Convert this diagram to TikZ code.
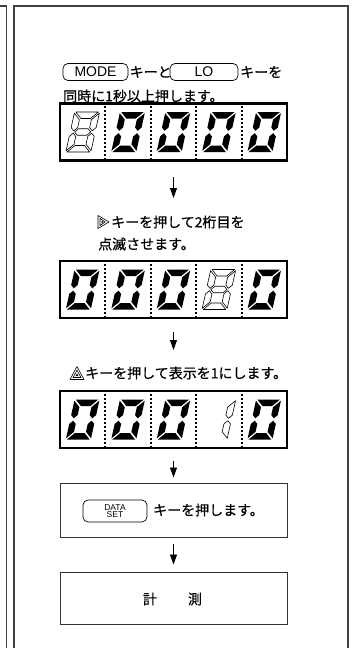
\documentclass[tikz,border=0pt]{standalone}
\usepackage{fontspec}
\setmainfont{Noto Sans CJK JP}[FakeBold=0.5]
\newfontfamily\keyfont{Liberation Sans}
\usetikzlibrary{arrows.meta,calc}

\newcommand\mySegA[1]{\path[#1] (-11.3,-20) -- (11.3,-20) -- (4.8,-13.5) -- (-4.8,-13.5) -- cycle;}
\newcommand\mySegB[1]{\path[#1] (12.5,-18.8) -- (12.5,-4.45) -- (9.25,-1.2) -- (6,-4.45) -- (6,-12.3) -- cycle;}
\newcommand\mySegC[1]{\path[#1] (12.5,18.8) -- (12.5,4.45) -- (9.25,1.2) -- (6,4.45) -- (6,12.3) -- cycle;}
\newcommand\mySegD[1]{\path[#1] (-11.3,20) -- (11.3,20) -- (4.8,13.5) -- (-4.8,13.5) -- cycle;}
\newcommand\mySegE[1]{\path[#1] (-12.5,18.8) -- (-12.5,4.45) -- (-9.25,1.2) -- (-6,4.45) -- (-6,12.3) -- cycle;}
\newcommand\mySegF[1]{\path[#1] (-12.5,-18.8) -- (-12.5,-4.45) -- (-9.25,-1.2) -- (-6,-4.45) -- (-6,-12.3) -- cycle;}
\newcommand\mySegG[1]{\path[#1] (-8.05,0) -- (-4.8,-3.25) -- (4.8,-3.25) -- (8.05,0) -- (4.8,3.25) -- (-4.8,3.25) -- cycle;}

\newcommand\digitZero[2]{\begin{scope}[shift={(#1,#2)},xslant=0.22]
 \mySegA{segon}\mySegB{segon}\mySegC{segon}\mySegD{segon}\mySegE{segon}\mySegF{segon}\end{scope}}
\newcommand\digitEight[2]{\begin{scope}[shift={(#1,#2)},xslant=0.22]
 \mySegA{segoff}\mySegB{segoff}\mySegC{segoff}\mySegD{segoff}\mySegE{segoff}\mySegF{segoff}\mySegG{segoff}\end{scope}}
\newcommand\digitOne[2]{\begin{scope}[shift={(#1,#2)},xslant=0.22]
 \mySegB{segoff}\mySegC{segoff}\end{scope}}

\tikzset{
  segon/.style={fill=black},
  segoff/.style={draw=black,line width=0.6pt,line join=round},
  frame/.style={draw=black!75,line width=1.4pt},
  disp/.style={draw=black,line width=2.5pt,minimum width=227pt,minimum height=57pt,inner sep=0pt},
  sepline/.style={draw=black,line width=2pt,dash pattern=on 2pt off 2pt},
  box/.style={draw=black!80,line width=1pt,minimum width=227pt,inner sep=0pt},
  arr/.style={-{Triangle[length=10pt,width=7pt]},line width=0.8pt},
  key/.style={draw=black,line width=0.7pt,rounded corners=5pt,inner sep=0pt,font=\keyfont\fontsize{14}{15}\selectfont},
  jtxt/.style={anchor=west,inner sep=0pt,font=\fontsize{14}{16}\selectfont},
  sym/.style={draw=black,line width=0.6pt,line join=round}
}

\begin{document}
\begin{tikzpicture}[x=1pt,y=-1pt]
\useasboundingbox (0,0) rectangle (355,648);
% frames
\draw[frame] (0,6) -- (6.5,6) -- (6.5,648);
\draw[frame] (14,648) -- (14,6) -- (348,6) -- (348,648);

% line 1
\node[key,minimum width=65pt,minimum height=17pt] (kmode) at (95.5,72) {MODE};
\node[jtxt] (t1a) at (129.5,72) {キーと};
\node[key,minimum width=68pt,minimum height=17pt] (klo) at (204,72) {LO};
\node[jtxt] (t1b) at (240,72) {キーを};
\node[jtxt] (t1c) at (63,96) {同時に1秒以上押します。};

% display 1
\node[disp] (d1) at (173.5,132) {};
\foreach \k in {0.2,0.4,0.6,0.8}
  \draw[sepline] ($(d1.north west)!\k!(d1.north east)$) -- ($(d1.south west)!\k!(d1.south east)$);
\digitEight{82.7}{132}
\digitZero{128.1}{132}
\digitZero{173.5}{132}
\digitZero{218.9}{132}
\digitZero{264.3}{132}

% arrow 1
\coordinate (a1) at (173.5,198);
\draw[arr,shorten <=15pt] (d1.south) -- (a1);

% text 2
\begin{scope}[shift={(98,222)}]
  \draw[sym] (0,-6.5) -- (11,0) -- (0,6.5) -- cycle;
  \draw[sym] (2,-3.6) -- (7.2,0) -- (2,3.6) -- cycle;
  \fill (3.6,-1.4) -- (5.6,0) -- (3.6,1.4) -- cycle;
\end{scope}
\node[jtxt] (t2a) at (111,222) {キーを押して2桁目を};
\node[jtxt] (t2b) at (98,244) {点滅させます。};

% display 2
\node[disp] (d2) at (173.5,289.5) {};
\foreach \k in {0.2,0.4,0.6,0.8}
  \draw[sepline] ($(d2.north west)!\k!(d2.north east)$) -- ($(d2.south west)!\k!(d2.south east)$);
\digitZero{82.7}{289.5}
\digitZero{128.1}{289.5}
\digitZero{173.5}{289.5}
\digitEight{218.9}{289.5}
\digitZero{264.3}{289.5}

% arrow 2
\coordinate (a2) at (173.5,350);
\draw[arr,shorten <=13pt] (d2.south) -- (a2);

% text 3
\begin{scope}[shift={(77,373)}]
  \draw[sym] (-7,6.5) -- (0,-6.5) -- (7,6.5) -- cycle;
  \draw[sym] (-4,4.5) -- (0,-2.8) -- (4,4.5) -- cycle;
  \fill (-1.6,3.2) -- (0,0.4) -- (1.6,3.2) -- cycle;
\end{scope}
\node[jtxt] (t3) at (85,373) {キーを押して表示を1にします。};

% display 3
\node[disp] (d3) at (173.5,419.5) {};
\foreach \k in {0.2,0.4,0.6,0.8}
  \draw[sepline] ($(d3.north west)!\k!(d3.north east)$) -- ($(d3.south west)!\k!(d3.south east)$);
\digitZero{82.7}{419.5}
\digitZero{128.1}{419.5}
\digitZero{173.5}{419.5}
\digitOne{218.9}{419.5}
\digitZero{264.3}{419.5}

% box 4
\node[box,minimum height=54pt] (b4) at (173.5,510) {};
\node[key,minimum width=64pt,minimum height=22pt,font=\keyfont\fontsize{8.5}{7.5}\selectfont,align=center] (kdata) at (115,511) {DATA\\SET};
\node[jtxt] (t4) at (153,510) {キーを押します。};
\draw[arr,shorten <=12pt,shorten >=5pt] (d3.south) -- (b4.north);

% box 5
\node[box,minimum height=52pt] (b5) at (173.5,598) {};
\node[inner sep=0pt,font=\fontsize{14}{16}\selectfont] (t5a) at (150,599) {計};
\node[inner sep=0pt,font=\fontsize{14}{16}\selectfont] (t5b) at (195,599) {測};
\draw[arr,shorten <=6pt,shorten >=7pt] (b4.south) -- (b5.north);
\end{tikzpicture}
\end{document}
